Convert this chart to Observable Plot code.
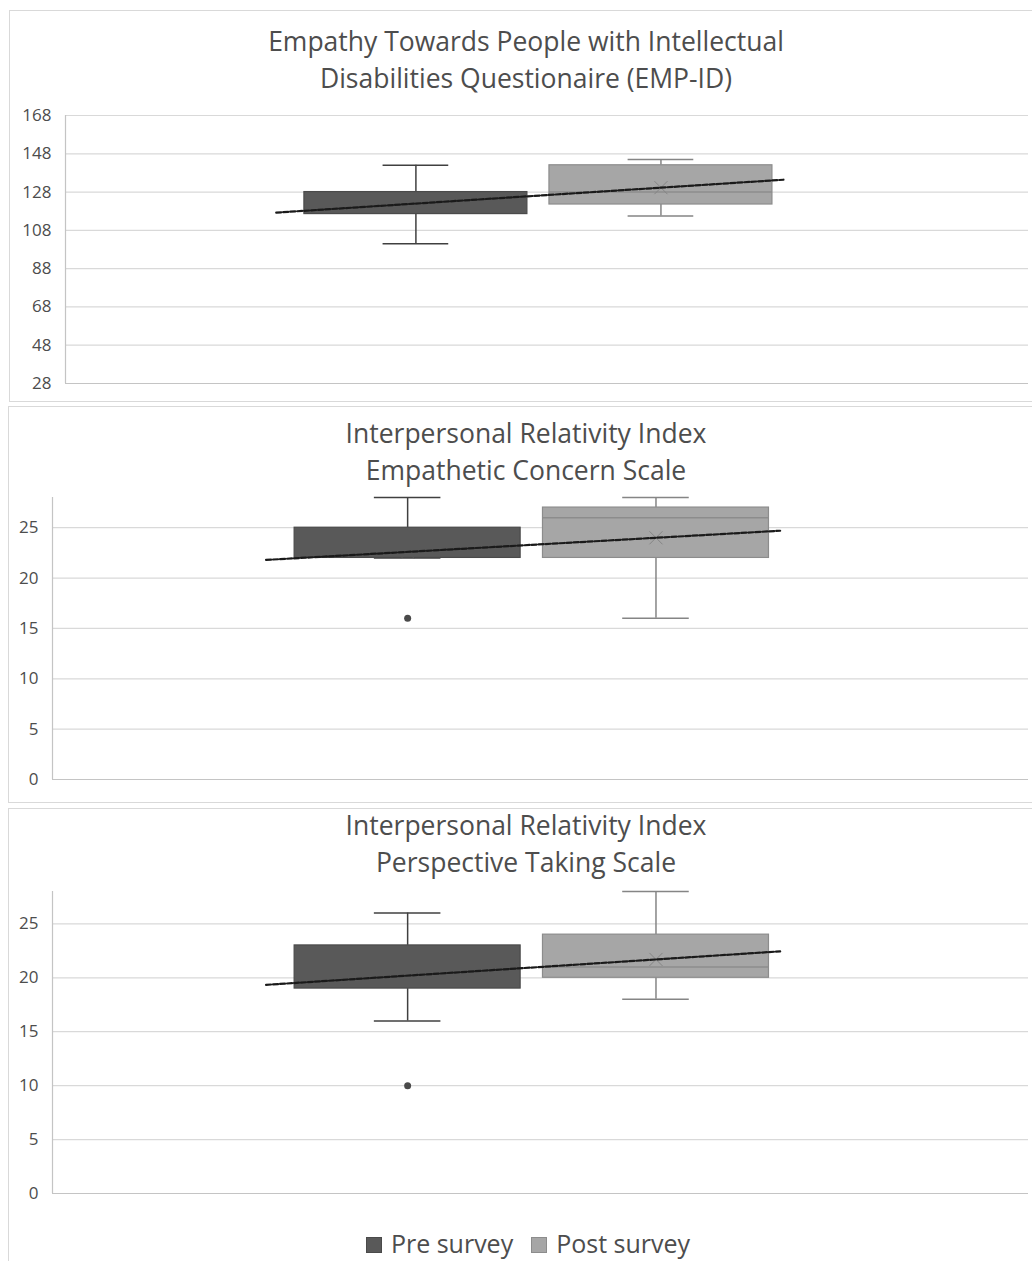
<!DOCTYPE html>
<html>
<head>
<meta charset="utf-8">
<script src="https://cdn.jsdelivr.net/npm/d3@7"></script>
<script src="https://cdn.jsdelivr.net/npm/@observablehq/plot@0.6"></script>
<style>
  html, body { margin: 0; padding: 0; background: #fff; }
  #chart { position: relative; width: 1032px; height: 1261px; overflow: hidden; font-family: "Open Sans", sans-serif; }
  .frame { position: absolute; border: 1px solid #d9d9d9; box-sizing: border-box; }
  .title { position: absolute; left: 20px; width: 1012px; text-align: center; color: #4d4d4d; font-size: 26.5px; line-height: 37px; white-space: nowrap; }
  .plotwrap { position: absolute; left: 0; }
  .legend { position: absolute; top: 1226px; left: 0; width: 1056px; text-align: center; color: #4d4d4d; font-size: 25px; line-height: 34px; white-space: nowrap; }
  .legend span.sw { display: inline-block; width: 16px; height: 16px; vertical-align: 0px; margin-right: 9px; box-sizing: border-box; }
  .legend span.item { margin: 0 9px; }
</style>
</head>
<body>
<div id="chart"></div>
<script>
// ---------- data ----------
const groups = ["Pre survey", "Post survey"];

// Panel 1: EMP-ID
const empMin    = [101, 115.5];
const empQ1     = [116.5, 121.5];
const empMedian = [null, 128];
const empQ3     = [128, 142];
const empMax    = [142, 145];
const empMean   = [122, 130.3];
const empOutliers = [[], []];
const empTicks  = [28, 48, 68, 88, 108, 128, 148, 168];

// Panel 2: IRI Empathetic Concern Scale
const ecsMin    = [22, 16];
const ecsQ1     = [22, 22];
const ecsMedian = [null, 26];
const ecsQ3     = [25, 27];
const ecsMax    = [28, 28];
const ecsMean   = [22.6, 24.0];
const ecsOutliers = [[16], []];
const ecsTicks  = [0, 5, 10, 15, 20, 25];

// Panel 3: IRI Perspective Taking Scale
const ptsMin    = [16, 18];
const ptsQ1     = [19, 20];
const ptsMedian = [null, 21];
const ptsQ3     = [23, 24];
const ptsMax    = [26, 28];
const ptsMean   = [20.2, 21.7];
const ptsOutliers = [[10], []];
const ptsTicks  = [0, 5, 10, 15, 20, 25];

// ---------- styles ----------
const boxFill   = ["#595959", "#a6a6a6"];
const boxStroke = ["#4a4a4a", "#8c8c8c"];
const whisker   = ["#404040", "#858585"];
const meanStroke = ["#595959", "#858585"];
const X_DOMAIN = [-0.43, 3.5];
const HALF = 0.455, CAP = 0.134;
const TREND_FROM = 0.43, TREND_TO = 2.5;

const chart = document.getElementById("chart");

function addDiv(cls, css, html) {
  const d = document.createElement("div");
  d.className = cls;
  Object.assign(d.style, css);
  if (html) d.innerHTML = html;
  chart.appendChild(d);
  return d;
}

function panel(cfg) {
  const rows = groups.map((g, i) => ({
    group: g, pos: i + 1, i,
    min: cfg.min[i], q1: cfg.q1[i], median: cfg.median[i], q3: cfg.q3[i], max: cfg.max[i], mean: cfg.mean[i]
  }));
  const outs = [];
  cfg.outliers.forEach((arr, i) => arr.forEach(v => outs.push({pos: i + 1, value: v, i})));
  const slope = cfg.mean[1] - cfg.mean[0];
  const trend = [TREND_FROM, TREND_TO].map(x => ({x, y: cfg.mean[0] + slope * (x - 1)}));
  const [y0, y1] = cfg.yDomain;

  const svg = Plot.plot({
    width: 1032,
    height: cfg.height,
    marginTop: cfg.marginTop,
    marginBottom: cfg.marginBottom,
    marginLeft: cfg.marginLeft,
    marginRight: 4,
    x: {domain: X_DOMAIN, axis: null},
    y: {domain: cfg.yDomain},
    color: {type: "identity"},
    style: {fontFamily: "Open Sans", fontSize: "17px", color: "#4d4d4d", background: "transparent", overflow: "visible"},
    marks: [
      Plot.ruleY(cfg.ticks.filter(t => t > y0), {stroke: "#d9d9d9", strokeWidth: 1.2}),
      Plot.ruleY([y0], {stroke: "#c4c4c4", strokeWidth: 1.2}),
      Plot.ruleX([X_DOMAIN[0]], {y1: y0, y2: y1, stroke: "#c4c4c4", strokeWidth: 1.2}),
      Plot.axisY({ticks: cfg.ticks, tickSize: 0, tickPadding: 14, label: null, fill: "#4d4d4d", fontSize: 17}),
      // whiskers
      Plot.ruleX(rows, {x: "pos", y1: "q3", y2: "max", stroke: d => whisker[d.i], strokeWidth: 1.5}),
      Plot.ruleX(rows, {x: "pos", y1: "min", y2: "q1", stroke: d => whisker[d.i], strokeWidth: 1.5}),
      Plot.ruleY(rows, {y: "max", x1: d => d.pos - CAP, x2: d => d.pos + CAP, stroke: d => whisker[d.i], strokeWidth: 1.5}),
      Plot.ruleY(rows, {y: "min", x1: d => d.pos - CAP, x2: d => d.pos + CAP, stroke: d => whisker[d.i], strokeWidth: 1.5}),
      // boxes
      Plot.rect(rows, {x1: d => d.pos - HALF, x2: d => d.pos + HALF, y1: "q1", y2: "q3", fill: d => boxFill[d.i], stroke: d => boxStroke[d.i], strokeWidth: 1.2}),
      Plot.ruleY(rows.filter(d => d.median != null), {y: "median", x1: d => d.pos - HALF, x2: d => d.pos + HALF, stroke: d => boxStroke[d.i], strokeWidth: 1.5}),
      Plot.dot(rows, {x: "pos", y: "mean", symbol: "times", r: 6, stroke: d => meanStroke[d.i], strokeWidth: 1}),
      // trend line
      Plot.line(trend, {x: "x", y: "y", stroke: "#1a1a1a", strokeWidth: 2.2, strokeDasharray: "5,2"}),
      // outliers
      Plot.dot(outs, {x: "pos", y: "value", r: 3.5, fill: d => boxStroke[d.i], stroke: "none"})
    ]
  });
  const wrap = addDiv("plotwrap", {top: cfg.top + "px"});
  wrap.appendChild(svg);
}

// frames
addDiv("frame", {left: "9px", top: "10px", width: "1040px", height: "392px"});
addDiv("frame", {left: "8px", top: "406px", width: "1040px", height: "397px"});
addDiv("frame", {left: "8px", top: "808px", width: "1040px", height: "470px"});

// titles
addDiv("title", {top: "23px"}, "Empathy Towards People with Intellectual<br>Disabilities Questionaire (EMP-ID)");
addDiv("title", {top: "415px"}, "Interpersonal Relativity Index<br>Empathetic Concern Scale");
addDiv("title", {top: "807px"}, "Interpersonal Relativity Index<br>Perspective Taking Scale");

panel({top: 0, height: 400, marginTop: 115, marginBottom: 17, marginLeft: 65,
  yDomain: [28, 168], ticks: empTicks,
  min: empMin, q1: empQ1, median: empMedian, q3: empQ3, max: empMax, mean: empMean, outliers: empOutliers});

panel({top: 400, height: 400, marginTop: 97, marginBottom: 21, marginLeft: 52,
  yDomain: [0, 28], ticks: ecsTicks,
  min: ecsMin, q1: ecsQ1, median: ecsMedian, q3: ecsQ3, max: ecsMax, mean: ecsMean, outliers: ecsOutliers});

panel({top: 800, height: 410, marginTop: 91, marginBottom: 17, marginLeft: 52,
  yDomain: [0, 28], ticks: ptsTicks,
  min: ptsMin, q1: ptsQ1, median: ptsMedian, q3: ptsQ3, max: ptsMax, mean: ptsMean, outliers: ptsOutliers});

// legend
addDiv("legend", {}, groups.map((g, i) =>
  `<span class="item"><span class="sw" style="background:${boxFill[i]};border:1px solid ${boxStroke[i]}"></span>${g}</span>`).join(""));
</script>
</body>
</html>
